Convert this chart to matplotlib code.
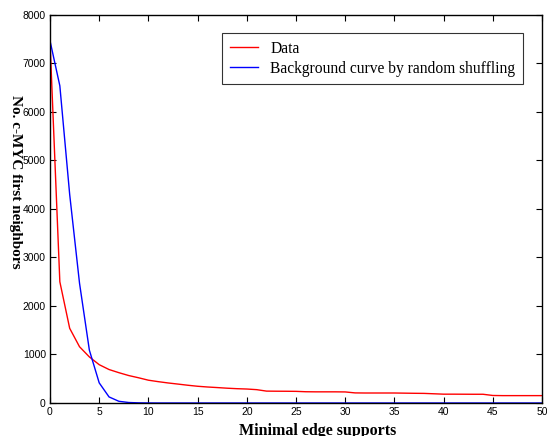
import matplotlib.pyplot as plt
import numpy as np

# minimal edge support threshold
support = np.arange(0, 51)

data_counts = [
    7470, 2500, 1540, 1160, 950, 790, 690, 625, 566, 520,
    470, 440, 413, 390, 366, 345, 330, 318, 305, 295,
    288, 275, 245, 243, 242, 240, 232, 230, 230, 230,
    228, 208, 206, 206, 206, 206, 203, 200, 198, 190,
    182, 182, 181, 180, 180, 155, 152, 152, 152, 152,
    152,
]

shuffled_counts = [
    7470, 6540, 4300, 2470, 1090, 415, 125, 35, 10, 3,
    1, 0, 0, 0, 0, 0, 0, 0, 0, 0,
    0, 0, 0, 0, 0, 0, 0, 0, 0, 0,
    0, 0, 0, 0, 0, 0, 0, 0, 0, 0,
    0, 0, 0, 0, 0, 0, 0, 0, 0, 0,
    0,
]

x_ticks = np.arange(0, 51, 5)
y_ticks = np.arange(0, 8001, 1000)

fig = plt.figure(figsize=(5.47, 4.36), dpi=100)
ax = fig.add_axes([0.0914, 0.0757, 0.8996, 0.8899])

ax.plot(support, data_counts, color="red", linewidth=1.0, label="Data")
ax.plot(support, shuffled_counts, color="blue", linewidth=1.0,
        label="Background curve by random shuffling")

ax.set_xlim(0, 50)
ax.set_ylim(0, 8000)
ax.set_xticks(x_ticks)
ax.set_yticks(y_ticks)
ax.tick_params(direction="in", top=True, right=True, length=4, width=0.8,
               labelsize=7.5, pad=3)
for label in ax.get_xticklabels() + ax.get_yticklabels():
    label.set_family("Liberation Sans")
for spine in ax.spines.values():
    spine.set_linewidth(1.0)

ax.set_xlabel("Minimal edge supports", family="Liberation Serif",
              fontweight="bold", fontsize=11.5)
ax.xaxis.set_label_coords(0.543, -0.052)
ax.set_ylabel("No. c-MYC first neighbors", family="Liberation Serif",
              fontweight="bold", fontsize=11, rotation=-90, va="center")
ax.yaxis.set_label_coords(-0.071, 0.57)

legend = ax.legend(loc="upper right", bbox_to_anchor=(0.961, 0.954),
                   borderaxespad=0.0,
                   prop={"family": "Liberation Serif", "size": 11.2},
                   frameon=True, fancybox=False, edgecolor="black",
                   handlelength=1.8, borderpad=0.5, labelspacing=0.25)
legend.get_frame().set_linewidth(0.8)

fig.savefig("out.png", dpi=100)
